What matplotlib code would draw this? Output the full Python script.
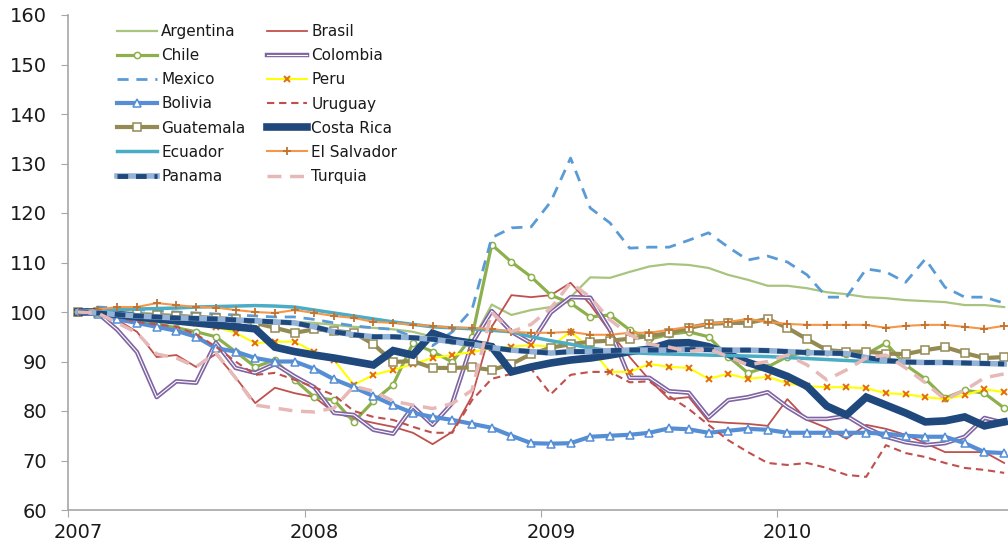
import matplotlib
matplotlib.use("Agg")
import matplotlib.pyplot as plt
import matplotlib.patheffects as pe
import numpy as np

# índices mensuales ene-2007 .. dic-2010 (48 meses)
years = ["2007", "2008", "2009", "2010"]

argentina = [100, 99.8, 99.6, 99.4, 99.2, 99, 98.9, 98.8, 98.6, 98.4, 98.2, 98,
             97.8, 97.4, 97, 96.8, 96.5, 96, 95, 93.5, 94, 101.5, 99.4, 100.4,
             101, 103, 107, 106.9, 108.1, 109.2, 109.7, 109.5, 108.9, 107.5, 106.5, 105.3,
             105.3, 104.8, 104, 103.6, 103, 102.8, 102.4, 102.2, 102, 101.4, 101.4, 101]
brasil = [100, 99.5, 98.4, 96, 90.9, 91.3, 88.9, 91.5, 86.8, 81.6, 84.7, 83.6,
          82.8, 79.7, 78.5, 77.6, 76.8, 75.6, 73.3, 75.8, 83, 97, 103.4, 103,
          103.4, 105.9, 101.5, 96, 90.9, 86.3, 82.4, 82.8, 77.9, 77.6, 77.4, 77,
          82.4, 78.2, 76.6, 74.4, 77.2, 76.4, 75.2, 73.5, 71.7, 71.7, 71.7, 69.5]
chile = [100, 100, 99.2, 98.5, 97.6, 96.8, 96, 95, 92, 88.9, 90.3, 86.3,
         82.8, 82.2, 77.8, 82, 85.3, 93.7, 92, 89.9, 95, 113.6, 110.1, 107.1,
         103.4, 101.8, 99, 99.4, 96.4, 94.5, 95.5, 96, 95, 91, 87.7, 88.9,
         91, 92, 92, 91.5, 91.5, 93.7, 89.3, 86.5, 82.6, 84.2, 83.6, 80.6]
colombia = [100, 99.8, 96.4, 91.9, 82.8, 86, 85.7, 93.8, 88.7, 87.7, 89.5, 87,
            84.8, 79.6, 79.2, 76.2, 75.4, 80.9, 77.2, 81.6, 93.7, 100.2, 96, 93.7,
            99.9, 103, 102.9, 96.4, 86.7, 86.7, 84, 83.7, 78.7, 82.2, 82.8, 83.8,
            80.8, 78.4, 78.4, 79, 76.6, 74.8, 73.7, 73.1, 73.5, 74.8, 78.6, 77.6]
mexico = [100, 101, 100.8, 100.5, 100.2, 100, 99.8, 99.6, 99.4, 99.2, 99, 99,
          98.5, 97.8, 97.2, 96.8, 96.5, 95, 93.2, 96, 100.5, 115, 117, 117.2,
          122.3, 131.1, 121, 118, 112.9, 113.1, 113.1, 114.5, 116, 113.1, 110.5, 111.3,
          110.1, 107.5, 103, 103, 108.7, 108.1, 106, 110.7, 105, 103, 103, 101.8]
peru = [100, 100, 99.8, 99.5, 99.2, 98.8, 97.8, 97, 95.8, 93.7, 94, 94,
        91.9, 90.3, 85.3, 87.3, 88.3, 89.5, 90.7, 91.3, 91.9, 92.7, 93, 93.3,
        93, 96, 92.7, 87.9, 87.9, 89.5, 88.9, 88.7, 86.5, 87.5, 86.5, 86.9,
        85.6, 85, 84.8, 84.8, 84.6, 83.6, 83.4, 82.8, 82.4, 83.2, 84.4, 83.8]
bolivia = [100, 99.5, 98.5, 97.8, 97, 96.2, 95, 92.7, 92, 90.7, 90, 90,
           88.5, 86.4, 84.8, 83, 81.2, 79.6, 78.8, 78.2, 77.4, 76.6, 75, 73.5,
           73.4, 73.5, 74.8, 75, 75.2, 75.6, 76.5, 76.3, 75.6, 76, 76.4, 76.2,
           75.6, 75.6, 75.6, 75.6, 75.6, 75.4, 75, 74.8, 74.8, 73.5, 71.7, 71.5]
uruguay = [100, 99.5, 99, 98, 97.5, 97, 95.5, 93, 90, 87.3, 87.7, 86.3,
           84.8, 83.2, 80, 78.8, 78.2, 76.8, 75.6, 75.6, 82.2, 86.5, 87.5, 88.5,
           83.4, 87.3, 87.9, 87.9, 85.8, 86, 83, 80.4, 77.2, 74.1, 71.7, 69.5,
           69.1, 69.5, 68.5, 67.1, 66.7, 73.1, 71.5, 70.7, 69.5, 68.5, 68.1, 67.5]
guatemala = [100, 100, 99.8, 99.6, 99.4, 99.2, 99, 98.8, 98.5, 97.8, 96.8, 95.8,
             96.5, 96.2, 95.8, 93.5, 89.9, 90.1, 88.7, 88.7, 88.8, 88.3, 89.5, 91.5,
             92.8, 93.5, 94, 94.2, 94.6, 95.2, 95.7, 96.8, 97.6, 97.8, 97.8, 98.6,
             96.8, 94.5, 92.3, 92, 92, 91.6, 91.5, 92.3, 92.9, 91.7, 90.7, 90.9]
costa_rica = [100, 100, 99.5, 99, 98.6, 98.2, 97.8, 97.4, 97, 96.6, 92.9, 92,
              91.3, 90.7, 90, 89.3, 92.2, 91.3, 95.7, 94.3, 93.7, 93, 87.9, 88.9,
              89.7, 90.3, 90.7, 91.3, 92, 92.5, 93.7, 93.8, 93, 91.5, 89.8, 88.5,
              87, 85, 81, 79.2, 82.8, 81.2, 79.6, 77.8, 78, 78.8, 77, 77.8]
ecuador = [100, 100.3, 100.5, 100.6, 100.7, 100.8, 101, 101.1, 101.2, 101.3, 101.2, 101,
           100.4, 99.8, 99.2, 98.6, 98, 97.5, 97, 96.8, 96.6, 96.3, 96, 95,
           94.2, 93.5, 92.7, 92.2, 91.8, 91.6, 91.5, 91.4, 91.3, 91.2, 91.1, 91,
           90.8, 90.6, 90.4, 90.2, 90, 89.9, 89.8, 89.8, 89.7, 89.7, 89.7, 89.7]
el_salvador = [100, 100.5, 101, 101, 101.8, 101.4, 101, 100.9, 100.4, 100, 99.8, 100.4,
               99.8, 99.2, 98.8, 98, 97.8, 97.4, 97.2, 96.8, 96.8, 96.6, 96, 95.8,
               95.8, 96, 95.4, 95.4, 95.8, 95.8, 96.4, 97, 97.6, 98, 98.6, 98,
               97.6, 97.4, 97.4, 97.4, 97.4, 96.8, 97.2, 97.4, 97.4, 97, 96.6, 97.2]
panama = [100, 99.8, 99.5, 99.2, 99, 98.8, 98.7, 98.6, 98.4, 98.2, 98, 97.8,
          97, 96, 95.4, 95, 95, 94.8, 94.5, 94, 93.5, 92.8, 92.3, 92,
          91.7, 92, 92, 92.2, 92.3, 92.3, 92.3, 92.4, 92.4, 92.3, 92.3, 92.2,
          92, 91.8, 91.7, 91.6, 90.8, 90.2, 89.9, 89.8, 89.8, 89.7, 89.6, 89.5]
turquia = [100, 99.8, 97.8, 95.8, 91.5, 90.7, 88.9, 91.8, 86.7, 81.2, 80.6, 80,
           79.8, 80.6, 85, 84, 82, 81.2, 80.5, 81.5, 84.2, 100, 96, 97.5,
           100.8, 105.9, 103, 98.4, 95.4, 93.5, 92.9, 92, 92.5, 91, 89.3, 90,
           91.3, 89.3, 86.3, 88.3, 90.7, 91.3, 88.7, 85.7, 82.3, 84.2, 86.7, 87.5]

x = np.arange(len(argentina))

fig = plt.figure(figsize=(10.08, 5.45), dpi=100)
ax = fig.add_axes([68 / 1008, 35 / 545, 946 / 1008, 495 / 545])

h = {}
h["Argentina"], = ax.plot(x, argentina, color="#A9C47F", lw=1.6)
h["Brasil"], = ax.plot(x, brasil, color="#C0504D", lw=1.3)
h["Chile"], = ax.plot(x, chile, color="#8DB04C", lw=2.3, marker="o", ms=4.5,
                      mfc="white", mec="#8DB04C", mew=1.1)
h["Colombia"], = ax.plot(x, colombia, color="white", lw=0.8,
                         path_effects=[pe.Stroke(linewidth=3.2, foreground="#8064A2"), pe.Normal()])
h["Mexico"], = ax.plot(x, mexico, color="#5B9BD5", lw=2, dashes=(4, 2.8))
h["Peru"], = ax.plot(x, peru, color="#FFFF00", lw=1.5, marker="x", ms=4.5,
                     mec="#E46C0A", mew=1.4)
h["Bolivia"], = ax.plot(x, bolivia, color="#558ED5", lw=3, marker="^", ms=5.5,
                        mfc="white", mec="#558ED5", mew=1.1)
h["Uruguay"], = ax.plot(x, uruguay, color="#C0504D", lw=1.5, dashes=(3.5, 2.3))
h["Guatemala"], = ax.plot(x, guatemala, color="#948A54", lw=3, marker="s", ms=5.5,
                          mfc="white", mec="#948A54", mew=1.1)
h["Costa Rica"], = ax.plot(x, costa_rica, color="#1F497D", lw=5.5, solid_joinstyle="miter")
h["Ecuador"], = ax.plot(x, ecuador, color="#4BACC6", lw=2.5)
h["El Salvador"], = ax.plot(x, el_salvador, color="#F79646", lw=1.5, marker="+", ms=6,
                            mec="#C0722F", mew=1.3)
pan_base, = ax.plot(x, panama, color="#95B3D7", lw=4)
pan_dash, = ax.plot(x, panama, color="#1F497D", lw=3.5, dashes=(2.2, 1.6))
h["Panama"] = (pan_base, pan_dash)
h["Turquia"], = ax.plot(x, turquia, color="#E6B9B8", lw=2.5, dashes=(4, 2.5))

ax.set_xlim(-0.5, 47.5)
ax.set_ylim(60, 160)
ax.set_yticks(range(60, 161, 10))
ax.set_xticks([-0.5, 11.5, 23.5, 35.5, 47.5])
ax.set_xticklabels([])
ax.set_xticks([0, 12, 24, 36], minor=True)
ax.set_xticklabels(years, minor=True)
ax.tick_params(axis="x", which="minor", length=0, pad=9, labelsize=14)
ax.tick_params(axis="x", which="major", length=5, color="#A6A6A6", direction="out")
ax.tick_params(axis="y", length=5, color="#A6A6A6", labelsize=14, pad=10)
for lab in ax.get_xticklabels(minor=True) + ax.get_yticklabels():
    lab.set_color("#1A1A1A")

for s in ["top", "right"]:
    ax.spines[s].set_visible(False)
for s in ["left", "bottom"]:
    ax.spines[s].set_color("#A6A6A6")
    ax.spines[s].set_linewidth(1.2)

order = ["Argentina", "Chile", "Mexico", "Bolivia", "Guatemala", "Ecuador", "Panama",
         "Brasil", "Colombia", "Peru", "Uruguay", "Costa Rica", "El Salvador", "Turquia"]
leg = ax.legend([h[k] for k in order], order, ncol=2, loc="upper left",
                bbox_to_anchor=(117 / 1008, 1 - 24 / 545), bbox_transform=fig.transFigure,
                frameon=False, fontsize=11, handlelength=2.6, handletextpad=0.3,
                columnspacing=1.4, labelspacing=0.6, borderpad=0, borderaxespad=0)
for t in leg.get_texts():
    t.set_color("#1A1A1A")

fig.savefig("out.png", dpi=100)
